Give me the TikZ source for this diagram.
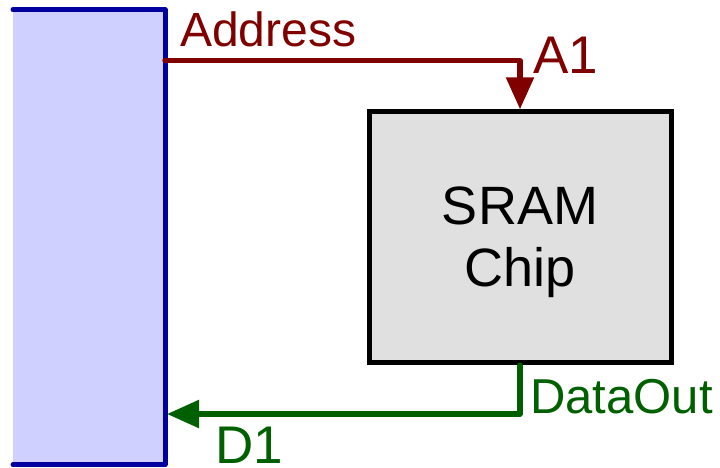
\documentclass[tikz,border=0pt]{standalone}
\usepackage{fontspec}
\setmainfont{Liberation Sans}
\usetikzlibrary{arrows.meta}
\definecolor{addrred}{RGB}{128,0,0}
\definecolor{datagreen}{RGB}{0,96,0}
\definecolor{hostblue}{RGB}{0,0,160}
\definecolor{hostfill}{RGB}{207,208,255}
\definecolor{chipfill}{RGB}{224,224,224}

\begin{document}
\begin{tikzpicture}[x=1pt,y=-1pt,
  hostblock/.style={rectangle, fill=hostfill, inner sep=0, outer sep=0,
    minimum width=152pt, minimum height=455pt},
  hostedge/.style={draw=hostblue, line width=5pt, line cap=round, line join=round},
  chipbox/.style={rectangle, draw=black, fill=chipfill, line width=5pt,
    minimum width=302pt, minimum height=251pt, inner sep=0},
  chiptext/.style={inner sep=0, align=center, font=\fontsize{54}{62}\selectfont},
  bus/.style={line width=5.5pt, line cap=round, line join=round},
  busarrow/.style={-{Triangle[length=32pt, width=27pt]}},
  lbl/.style={inner sep=0, anchor=base west},
  biglbl/.style={lbl, font=\fontsize{53}{64}\selectfont},
  smalllbl/.style={lbl, font=\fontsize{48}{58}\selectfont},
]
\useasboundingbox (0,0) rectangle (720,467);

% processor side: filled block with its top, right and bottom edges
\node[hostblock] (host) at (89,237.25) {};
\draw[hostedge] (host.north west) -- (host.north east) -- (host.south east) -- (host.south west);

% memory chip
\node[chipbox] (chip) at (520,237.3) {};
\node[chiptext] (chiplbl) at ([yshift=-5pt]chip.center) {SRAM\\Chip};

% bus levels
\coordinate (addrlevel) at (0,60.7);
\coordinate (datalevel) at (0,414);

% address bus into the chip
\draw[bus, addrred, busarrow] (host.east |- addrlevel) -| (chip.north);
% data bus back to the processor
\draw[bus, datagreen, busarrow, shorten >=2pt] (chip.south) |- (host.east |- datalevel);

% labels
\node[smalllbl, addrred] (addrlbl) at (180,46.7) {Address};
\node[biglbl, addrred] (a1lbl) at (533,73) {A1};
\node[lbl, datagreen, font=\fontsize{49}{59}\selectfont] (dolbl) at (530,413.5) {DataOut};
\node[biglbl, datagreen] (d1lbl) at (215,463) {D1};
\end{tikzpicture}
\end{document}
